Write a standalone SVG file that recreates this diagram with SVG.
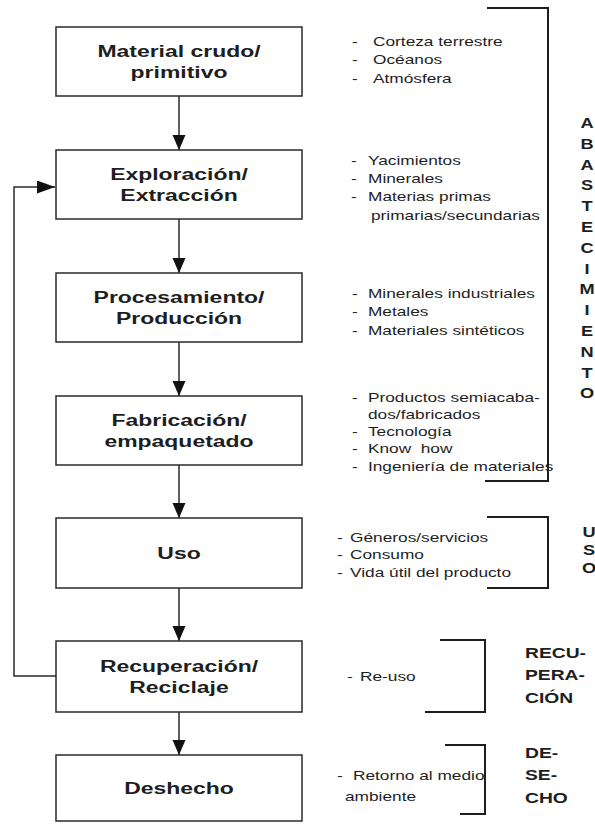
<svg xmlns="http://www.w3.org/2000/svg" width="595" height="824" viewBox="0 0 595 824">
<style>
  .box { fill: #ffffff; stroke: #2a2a2a; stroke-width: 1.5; }
  .lbl { font-family: "Liberation Sans", Arial, sans-serif; font-weight: bold; font-size: 17px; fill: #1e1e1e; text-anchor: middle; }
  .note { font-family: "Liberation Sans", Arial, sans-serif; font-size: 13px; fill: #1e1e1e; }
  .col { font-family: "Liberation Sans", Arial, sans-serif; font-weight: bold; font-size: 14px; fill: #1e1e1e; text-anchor: middle; }
  .tag { font-family: "Liberation Sans", Arial, sans-serif; font-weight: bold; font-size: 14.5px; fill: #1e1e1e; }
  .conn { fill: none; stroke: #2a2a2a; stroke-width: 1.5; }
  .brk { fill: none; stroke: #1e1e1e; stroke-width: 2; }
</style>
<defs>
  <marker id="arr" markerUnits="userSpaceOnUse" markerWidth="15" markerHeight="14" refX="15" refY="6.5" orient="auto">
    <path d="M0,0 L15,6.5 L0,13 z" fill="#111"/>
  </marker>
  <marker id="arrL" markerUnits="userSpaceOnUse" markerWidth="19" markerHeight="14" refX="18" refY="6.5" orient="auto">
    <path d="M0,0 L18,6.5 L0,13 z" fill="#111"/>
  </marker>
</defs>
<rect width="595" height="824" fill="#ffffff"/>

<g id="connectors">
  <line class="conn" x1="179" y1="96" x2="179" y2="150" marker-end="url(#arr)"/>
  <line class="conn" x1="179" y1="219" x2="179" y2="273" marker-end="url(#arr)"/>
  <line class="conn" x1="179" y1="342" x2="179" y2="396" marker-end="url(#arr)"/>
  <line class="conn" x1="179" y1="465" x2="179" y2="518" marker-end="url(#arr)"/>
  <line class="conn" x1="179" y1="588" x2="179" y2="641" marker-end="url(#arr)"/>
  <line class="conn" x1="179" y1="712" x2="179" y2="755" marker-end="url(#arr)"/>
  <path class="conn" d="M56,676 H14 V187 H55" marker-end="url(#arrL)"/>
</g>

<g id="n-material">
  <rect class="box" x="56" y="27" width="246" height="69"/>
  <text class="lbl" transform="translate(179 57) scale(1.35 1)">Material crudo/</text>
  <text class="lbl" transform="translate(179 78) scale(1.35 1)">primitivo</text>
</g>
<g id="n-exploracion">
  <rect class="box" x="56" y="150" width="246" height="69"/>
  <text class="lbl" transform="translate(179 180) scale(1.35 1)">Exploración/</text>
  <text class="lbl" transform="translate(179 201) scale(1.35 1)">Extracción</text>
</g>
<g id="n-procesamiento">
  <rect class="box" x="56" y="273" width="246" height="69"/>
  <text class="lbl" transform="translate(179 303) scale(1.35 1)">Procesamiento/</text>
  <text class="lbl" transform="translate(179 324) scale(1.35 1)">Producción</text>
</g>
<g id="n-fabricacion">
  <rect class="box" x="56" y="396" width="246" height="69"/>
  <text class="lbl" transform="translate(179 426) scale(1.35 1)">Fabricación/</text>
  <text class="lbl" transform="translate(179 447) scale(1.35 1)">empaquetado</text>
</g>
<g id="n-uso">
  <rect class="box" x="56" y="518" width="246" height="70"/>
  <text class="lbl" transform="translate(179 559) scale(1.35 1)">Uso</text>
</g>
<g id="n-recuperacion">
  <rect class="box" x="56" y="641" width="246" height="71"/>
  <text class="lbl" transform="translate(179 672) scale(1.35 1)">Recuperación/</text>
  <text class="lbl" transform="translate(179 693) scale(1.35 1)">Reciclaje</text>
</g>
<g id="n-deshecho">
  <rect class="box" x="56" y="755" width="246" height="66"/>
  <text class="lbl" transform="translate(179 794) scale(1.35 1)">Deshecho</text>
</g>

<g id="notes-material">
  <text class="note" transform="translate(352 45.5) scale(1.33 1)"><tspan x="0">-</tspan><tspan x="15.8">Corteza terrestre</tspan></text>
  <text class="note" transform="translate(352 64) scale(1.33 1)"><tspan x="0">-</tspan><tspan x="15.8">Océanos</tspan></text>
  <text class="note" transform="translate(352 82.5) scale(1.33 1)"><tspan x="0">-</tspan><tspan x="15.8">Atmósfera</tspan></text>
</g>
<g id="notes-exploracion">
  <text class="note" transform="translate(351 164.5) scale(1.33 1)"><tspan x="0">-</tspan><tspan x="12.8">Yacimientos</tspan></text>
  <text class="note" transform="translate(351 182.5) scale(1.33 1)"><tspan x="0">-</tspan><tspan x="12.8">Minerales</tspan></text>
  <text class="note" transform="translate(351 201) scale(1.33 1)"><tspan x="0">-</tspan><tspan x="12.8">Materias primas</tspan></text>
  <text class="note" transform="translate(371 219.5) scale(1.33 1)">primarias/secundarias</text>
</g>
<g id="notes-procesamiento">
  <text class="note" transform="translate(352 297.5) scale(1.33 1)"><tspan x="0">-</tspan><tspan x="12">Minerales industriales</tspan></text>
  <text class="note" transform="translate(352 316) scale(1.33 1)"><tspan x="0">-</tspan><tspan x="12">Metales</tspan></text>
  <text class="note" transform="translate(352 334.5) scale(1.33 1)"><tspan x="0">-</tspan><tspan x="12">Materiales sintéticos</tspan></text>
</g>
<g id="notes-fabricacion">
  <text class="note" transform="translate(352 401.5) scale(1.33 1)"><tspan x="0">-</tspan><tspan x="12">Productos semiacaba-</tspan></text>
  <text class="note" transform="translate(368 418.5) scale(1.33 1)">dos/fabricados</text>
  <text class="note" transform="translate(352 435.5) scale(1.33 1)"><tspan x="0">-</tspan><tspan x="12">Tecnología</tspan></text>
  <text class="note" transform="translate(352 452.5) scale(1.33 1)"><tspan x="0">-</tspan><tspan x="12">Know&#160; how</tspan></text>
  <text class="note" transform="translate(352 470.5) scale(1.33 1)"><tspan x="0">-</tspan><tspan x="12">Ingeniería de materiales</tspan></text>
</g>
<g id="notes-uso">
  <text class="note" transform="translate(337 541.5) scale(1.33 1)"><tspan x="0">-</tspan><tspan x="9.8">Géneros/servicios</tspan></text>
  <text class="note" transform="translate(337 559) scale(1.33 1)"><tspan x="0">-</tspan><tspan x="9.8">Consumo</tspan></text>
  <text class="note" transform="translate(337 576.5) scale(1.33 1)"><tspan x="0">-</tspan><tspan x="9.8">Vida útil del producto</tspan></text>
</g>
<g id="notes-recuperacion">
  <text class="note" transform="translate(347 681) scale(1.33 1)"><tspan x="0">-</tspan><tspan x="9.8">Re-uso</tspan></text>
</g>
<g id="notes-deshecho">
  <text class="note" transform="translate(337 779.5) scale(1.33 1)"><tspan x="0">-</tspan><tspan x="12">Retorno al medio</tspan></text>
  <text class="note" transform="translate(345 801) scale(1.33 1)">ambiente</text>
</g>

<g id="bracket-abastecimiento">
  <path class="brk" d="M487,8 H548 V481 H485"/>
  <text class="col" transform="translate(587 128) scale(1.3 1)">A</text>
  <text class="col" transform="translate(587 148.8) scale(1.3 1)">B</text>
  <text class="col" transform="translate(587 169.6) scale(1.3 1)">A</text>
  <text class="col" transform="translate(587 190.4) scale(1.3 1)">S</text>
  <text class="col" transform="translate(587 211.2) scale(1.3 1)">T</text>
  <text class="col" transform="translate(587 232) scale(1.3 1)">E</text>
  <text class="col" transform="translate(587 252.8) scale(1.3 1)">C</text>
  <text class="col" transform="translate(587 273.6) scale(1.3 1)">I</text>
  <text class="col" transform="translate(587 294.4) scale(1.3 1)">M</text>
  <text class="col" transform="translate(587 315.2) scale(1.3 1)">I</text>
  <text class="col" transform="translate(587 336) scale(1.3 1)">E</text>
  <text class="col" transform="translate(587 356.8) scale(1.3 1)">N</text>
  <text class="col" transform="translate(587 377.6) scale(1.3 1)">T</text>
  <text class="col" transform="translate(587 398.4) scale(1.3 1)">O</text>
</g>
<g id="bracket-uso">
  <path class="brk" d="M487,517 H548 V588 H487"/>
  <text class="col" transform="translate(589 537) scale(1.3 1)">U</text>
  <text class="col" transform="translate(589 555) scale(1.3 1)">S</text>
  <text class="col" transform="translate(589 573) scale(1.3 1)">O</text>
</g>
<g id="bracket-recuperacion">
  <path class="brk" d="M440,640 H485 V712 H425"/>
  <text class="tag" transform="translate(525 658) scale(1.33 1)">RECU-</text>
  <text class="tag" transform="translate(525 680) scale(1.33 1)">PERA-</text>
  <text class="tag" transform="translate(525 703) scale(1.33 1)">CIÓN</text>
</g>
<g id="bracket-deshecho">
  <path class="brk" d="M445,745 H485 V814 H460"/>
  <text class="tag" transform="translate(525 758) scale(1.33 1)">DE-</text>
  <text class="tag" transform="translate(525 780) scale(1.33 1)">SE-</text>
  <text class="tag" transform="translate(525 803) scale(1.33 1)">CHO</text>
</g>
</svg>
